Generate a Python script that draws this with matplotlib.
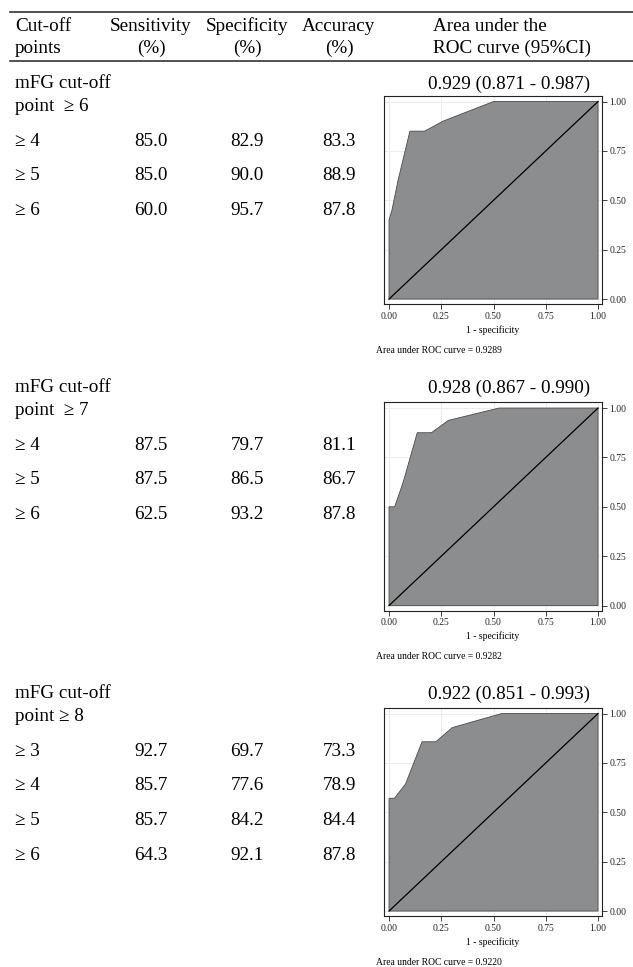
import matplotlib
matplotlib.use("Agg")
import matplotlib.pyplot as plt

W, H = 633, 967
serif = ['Liberation Serif', 'DejaVu Serif']
plt.rcParams['font.family'] = serif

# table data
headers = ['mFG cut-off\npoint  \u2265 6', 'mFG cut-off\npoint  \u2265 7', 'mFG cut-off\npoint \u2265 8']
rows1 = ['\u2265 4', '\u2265 5', '\u2265 6']
sens1 = [85.0, 85.0, 60.0]
spec1 = [82.9, 90.0, 95.7]
acc1 = [83.3, 88.9, 87.8]
rows2 = ['\u2265 4', '\u2265 5', '\u2265 6']
sens2 = [87.5, 87.5, 62.5]
spec2 = [79.7, 86.5, 93.2]
acc2 = [81.1, 86.7, 87.8]
rows3 = ['\u2265 3', '\u2265 4', '\u2265 5', '\u2265 6']
sens3 = [92.7, 85.7, 85.7, 64.3]
spec3 = [69.7, 77.6, 84.2, 92.1]
acc3 = [73.3, 78.9, 84.4, 87.8]
auc_ci = ['0.929 (0.871 - 0.987)', '0.928 (0.867 - 0.990)', '0.922 (0.851 - 0.993)']
auc_exact = [0.9289, 0.9282, 0.9220]

# ROC curves (1 - specificity, sensitivity)
fpr1 = [0, 0, 0.014, 0.043, 0.100, 0.171, 0.257, 0.500, 1.0]
tpr1 = [0, 0.40, 0.45, 0.600, 0.850, 0.850, 0.900, 1.0, 1.0]
fpr2 = [0, 0, 0.027, 0.068, 0.135, 0.203, 0.284, 0.527, 1.0]
tpr2 = [0, 0.50, 0.50, 0.625, 0.875, 0.875, 0.9375, 1.0, 1.0]
fpr3 = [0, 0, 0.026, 0.079, 0.158, 0.224, 0.303, 0.539, 1.0]
tpr3 = [0, 0.571, 0.571, 0.643, 0.857, 0.857, 0.929, 1.0, 1.0]

sections = [
    (headers[0], rows1, sens1, spec1, acc1, fpr1, tpr1),
    (headers[1], rows2, sens2, spec2, acc2, fpr2, tpr2),
    (headers[2], rows3, sens3, spec3, acc3, fpr3, tpr3),
]

fig = plt.figure(figsize=(W / 100, H / 100), dpi=100)
BIG = 13.8
SMALL = 6.9


def txt(x, y, s, size=BIG, ha='left'):
    # x, y in pixels from top-left, y is baseline
    fig.text(x / W, 1 - y / H, s, fontsize=size, ha=ha, va='baseline', family=serif)


def hline(y, lw=1.2, color='#333333'):
    fig.add_artist(plt.Line2D([10 / W, 1], [1 - y / H, 1 - y / H], lw=lw, color=color,
                              transform=fig.transFigure))


# header
hline(11.5)
hline(60.5)
txt(15, 31, 'Cut-off')
txt(15, 53, 'points')
txt(151, 31, 'Sensitivity', ha='center')
txt(151, 53, '(%)', ha='center')
txt(247, 31, 'Specificity', ha='center')
txt(247, 53, '(%)', ha='center')
txt(339, 31, 'Accuracy', ha='center')
txt(339, 53, '(%)', ha='center')
txt(433, 31, 'Area under the')
txt(433, 53, 'ROC curve (95%CI)')

sec_top = [88, 392, 698]
box_top = [96, 402.5, 708]
box_h = 208
ticks = [0, 0.25, 0.5, 0.75, 1.0]
ticklabels = ['0.00', '0.25', '0.50', '0.75', '1.00']

for i, (head, rows, sens, spec, acc, fpr, tpr) in enumerate(sections):
    s = sec_top[i]
    l1, l2 = head.split('\n')
    txt(15, s, l1)
    txt(15, s + 23, l2)
    for j, r in enumerate(rows):
        y = s + 58 + 34.5 * j
        txt(15, y, r)
        txt(151, y, f'{sens[j]:.1f}', ha='center')
        txt(247, y, f'{spec[j]:.1f}', ha='center')
        txt(339, y, f'{acc[j]:.1f}', ha='center')
    txt(509, s + 1, auc_ci[i], ha='center')

    bt = box_top[i]
    ax = fig.add_axes([384 / W, 1 - (bt + box_h) / H, 218 / W, box_h / H])
    ax.set_xlim(-0.024, 1.019)
    ax.set_ylim(-0.025, 1.028)
    ax.set_axisbelow(True)
    ax.grid(True, color='#e9e9e9', lw=0.6)
    ax.fill(list(fpr) + [1.0], list(tpr) + [0.0], facecolor='#8c8d8f',
            edgecolor='#4a4a4a', lw=0.6, zorder=2)
    ax.plot([0, 1], [0, 1], color='black', lw=0.9, zorder=3)
    ax.set_xticks(ticks)
    ax.set_xticklabels(ticklabels)
    ax.set_yticks(ticks)
    ax.set_yticklabels(ticklabels)
    ax.yaxis.tick_right()
    ax.tick_params(direction='out', length=3.5, width=0.6, labelsize=SMALL, pad=2,
                   colors='#222222')
    for sp in ax.spines.values():
        sp.set_linewidth(0.8)
        sp.set_color('#222222')
    ax.set_xlabel('1 - specificity', fontsize=SMALL, labelpad=3, family=serif)
    ax.text(-0.035, -0.235, f'Area under ROC curve = {auc_exact[i]:.4f}', fontsize=SMALL,
            ha='left', va='baseline', transform=ax.transAxes, family=serif)

fig.savefig('out.png', dpi=100)
